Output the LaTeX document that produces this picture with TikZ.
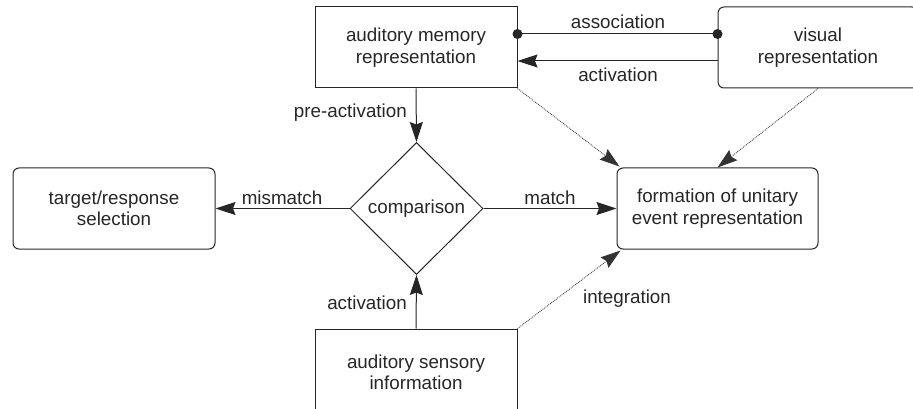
\documentclass[tikz,border=0pt]{standalone}
\usepackage{fontspec}
\setmainfont{Liberation Sans}
\usetikzlibrary{shapes.geometric,arrows.meta}

\begin{document}
\begin{tikzpicture}[x=1pt,y=-1pt,
  font=\fontsize{18.8}{21.5}\selectfont,
  every node/.style={align=center, text=black!85},
  box/.style={draw=black!85, line width=1pt, minimum width=202pt, minimum height=81pt, inner sep=0pt},
  rbox/.style={box, rounded corners=6pt},
  decision/.style={draw=black!85, line width=1pt, diamond, minimum width=133pt, minimum height=132pt, inner sep=0pt},
  tip/.style={-{Stealth[length=20pt,width=13pt,inset=2.5pt]}},
  flow/.style={draw=black!85, line width=1pt, tip},
  assoc/.style={draw=black!85, line width=1pt},
  faint/.style={draw=black!80, line width=0.85pt, densely dotted, tip},
  lbl/.style={inner sep=0pt}
]
\useasboundingbox (0,0) rectangle (913,409);

% boxes
\node[box]  (am)   at (416,47.5)  {auditory memory\\representation};
\node[rbox, minimum width=200pt] (vis) at (818,47.5) {visual\\representation};
\node[rbox] (tgt)  at (114,208.5) {target/response\\selection};
\node[rbox, minimum width=201pt] (form) at (717.5,208.5) {formation of unitary\\event representation};
\node[decision] (cmp) at (416.5,208.5) {comparison};
\node[box, minimum height=87pt] (as) at (416,372.5) {auditory sensory\\information};

% association link with round ends
\draw[assoc] ([yshift=13.5pt]am.east) coordinate (a1) -- ([yshift=13.5pt]vis.west) coordinate (a2);
\fill[black!85] (a1) circle (5pt) (a2) circle (5pt);

% activation from the visual side
\draw[flow] ([yshift=-13.5pt]vis.west) -- ([yshift=-13.5pt]am.east);

% main flow
\draw[flow] (am.south) -- (cmp.north);
\draw[flow] (as.north) -- (cmp.south);
\draw[flow] (cmp.west) -- (tgt.east);
\draw[flow] (cmp.east) -- (form.west);

% dotted contributions
\draw[faint] (am.south east) -- ([xshift=3pt,yshift=1pt]form.north west);
\draw[faint] (vis.south) -- (form.north);
\draw[faint] (as.north east) -- ([xshift=4pt,yshift=-1pt]form.south west);

% labels
\node[lbl] (lassoc) at (618,22) {association};
\node[lbl] (lact1)  at (618,75) {activation};
\node[lbl, anchor=east] (lpre) at (407,113) {pre-activation};
\node[lbl] (lmis)   at (282,198) {mismatch};
\node[lbl] (lmatch) at (550,198) {match};
\node[lbl] (lact2)  at (367,303) {activation};
\node[lbl] (lint)   at (627,299) {integration};
\end{tikzpicture}
\end{document}
